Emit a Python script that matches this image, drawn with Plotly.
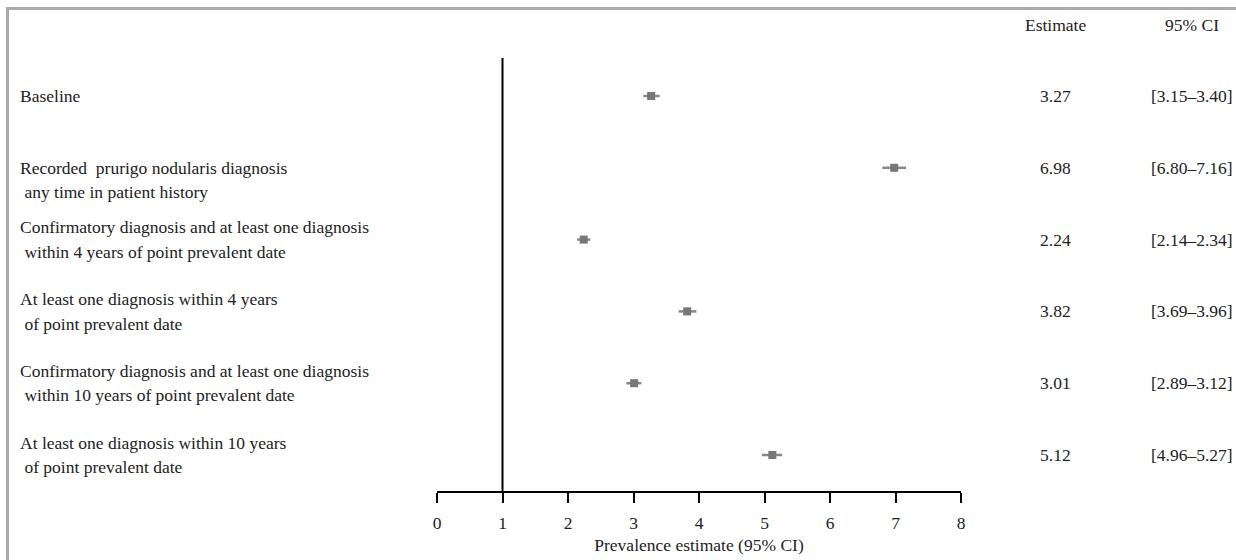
import plotly.graph_objects as go

labels = [
    "Baseline",
    "Recorded  prurigo nodularis diagnosis<br> any time in patient history",
    "Confirmatory diagnosis and at least one diagnosis<br> within 4 years of point prevalent date",
    "At least one diagnosis within 4 years<br> of point prevalent date",
    "Confirmatory diagnosis and at least one diagnosis<br> within 10 years of point prevalent date",
    "At least one diagnosis within 10 years<br> of point prevalent date",
]
estimates = [3.27, 6.98, 2.24, 3.82, 3.01, 5.12]
ci_low = [3.15, 6.80, 2.14, 3.69, 2.89, 4.96]
ci_high = [3.40, 7.16, 2.34, 3.96, 3.12, 5.27]
x_ticks = [0, 1, 2, 3, 4, 5, 6, 7, 8]

W, H = 1236, 560
L, R = 437, 961
AX_Y = 491
ROW0, ROWSTEP = 96, 71.8

FONT = "Liberation Serif, Times New Roman, serif"
FS = 17.5
TXT = "#222222"

rows = list(range(len(labels)))

def px_to_row(py):
    return (py - ROW0) / ROWSTEP

def px_x(px):
    return (px - L) / (R - L)

def px_y(py):
    return (AX_Y - py) / AX_Y

fig = go.Figure()
fig.add_trace(go.Scatter(
    x=estimates, y=rows, mode="markers",
    marker=dict(symbol="square", size=8, color="#777777"),
    error_x=dict(type="data", symmetric=False,
                 array=[h - e for h, e in zip(ci_high, estimates)],
                 arrayminus=[e - l for e, l in zip(estimates, ci_low)],
                 width=0, thickness=2.5, color="#888888"),
    showlegend=False, hoverinfo="skip",
))

annotations = []
label_shift = [0, -12, 0, 0, 0, 0]
for i, lab in enumerate(labels):
    lines = lab.split("<br>")
    n = len(lines)
    for k, ln in enumerate(lines):
        off = (k - (n - 1) / 2) * 24.5
        annotations.append(dict(
            x=px_x(18), y=i, xref="paper", yref="y",
            text=ln.replace(" ", "\u00a0"), showarrow=False,
            xanchor="left", yanchor="middle",
            yshift=-(off - label_shift[i]) if n > 1 else 0,
            font=dict(family=FONT, size=FS, color=TXT),
        ))
    annotations.append(dict(
        x=px_x(1055), y=i, xref="paper", yref="y",
        text=f"{estimates[i]:.2f}", showarrow=False,
        xanchor="center", yanchor="middle",
        font=dict(family=FONT, size=FS, color=TXT),
    ))
    annotations.append(dict(
        x=px_x(1192), y=i, xref="paper", yref="y",
        text=f"[{ci_low[i]:.2f}\u2013{ci_high[i]:.2f}]", showarrow=False,
        xanchor="center", yanchor="middle",
        font=dict(family=FONT, size=FS, color=TXT),
    ))

annotations.append(dict(x=px_x(1055), y=px_to_row(25), xref="paper", yref="y",
                        text="Estimate", showarrow=False, xanchor="center", yanchor="middle",
                        font=dict(family=FONT, size=FS, color=TXT)))
annotations.append(dict(x=px_x(1192), y=px_to_row(25), xref="paper", yref="y",
                        text="95% CI", showarrow=False, xanchor="center", yanchor="middle",
                        font=dict(family=FONT, size=FS, color=TXT)))

shapes = [
    dict(type="line", xref="x", yref="y", x0=1, x1=1,
         y0=px_to_row(58), y1=px_to_row(AX_Y), line=dict(color="black", width=2)),
    dict(type="line", xref="paper", yref="paper", x0=px_x(7.5), x1=px_x(7.5),
         y0=px_y(8), y1=px_y(H), line=dict(color="#aaaaaa", width=3)),
    dict(type="line", xref="paper", yref="paper", x0=px_x(6), x1=px_x(W),
         y0=px_y(8.5), y1=px_y(8.5), line=dict(color="#aaaaaa", width=3)),
]

fig.update_layout(
    width=W, height=H,
    margin=dict(l=L, r=W - R, t=0, b=H - AX_Y),
    paper_bgcolor="white", plot_bgcolor="white",
    font=dict(family=FONT, size=FS, color=TXT),
    xaxis=dict(range=[0, 8], tickvals=x_ticks, ticktext=[str(t) for t in x_ticks],
               showgrid=False, zeroline=False, showline=True, linecolor="black",
               linewidth=2, ticks="outside", ticklen=10, tickwidth=2, tickcolor="black",
               ticklabelstandoff=5,
               title=dict(text="Prevalence estimate (95% CI)", standoff=7,
                          font=dict(family=FONT, size=FS, color=TXT))),
    yaxis=dict(range=[px_to_row(AX_Y), px_to_row(0)], visible=False),
    annotations=annotations, shapes=shapes,
)

fig.write_html(
    "out.html",
    config={"displayModeBar": False},
    post_script="document.body.style.margin='0';document.body.style.overflow='hidden';",
)
